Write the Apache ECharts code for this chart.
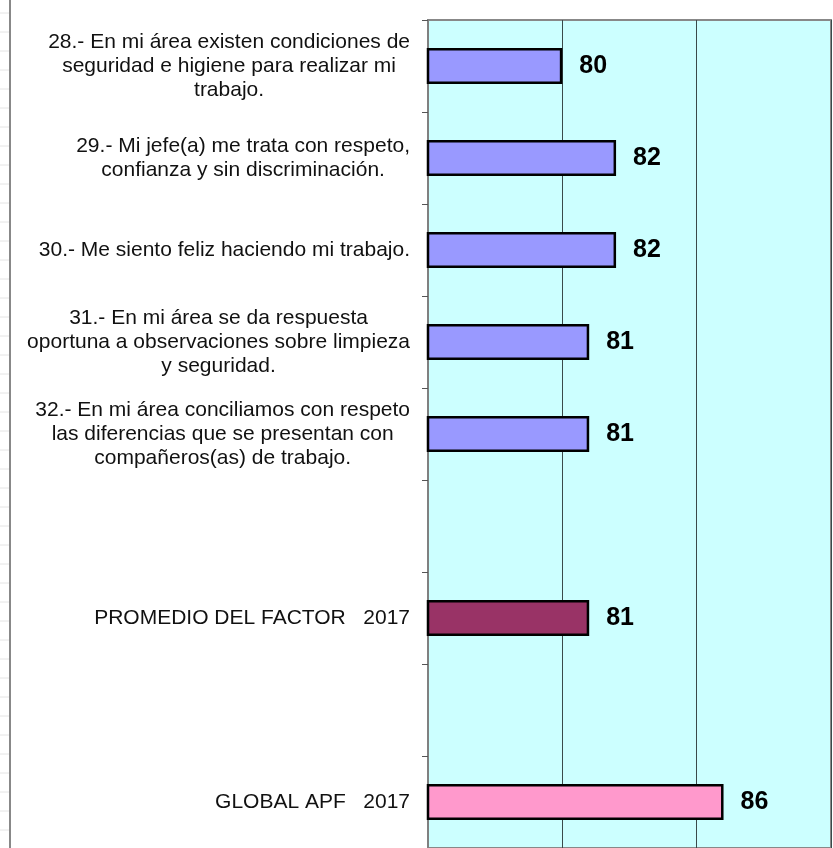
<!DOCTYPE html>
<html>
<head>
<meta charset="utf-8">
<script src="https://cdn.jsdelivr.net/npm/echarts@6/dist/echarts.min.js"></script>
<style>
  html, body { margin: 0; padding: 0; background: #ffffff; }
  #chart { width: 833px; height: 848px; }
</style>
</head>
<body>
<div id="chart"></div>
<script>
// Survey items (top to bottom); empty strings are spacer rows
const categories = [
  '28.- En mi área existen condiciones de\nseguridad e higiene para realizar mi\ntrabajo.',
  '29.- Mi jefe(a) me trata con respeto,\nconfianza y sin discriminación.',
  '30.- Me siento feliz haciendo mi trabajo.',
  '31.- En mi área se da respuesta\noportuna a observaciones sobre limpieza\ny seguridad.',
  '32.- En mi área conciliamos con respeto\nlas diferencias que se presentan con\ncompañeros(as) de trabajo.',
  '',
  'PROMEDIO DEL FACTOR   2017',
  '',
  'GLOBAL APF   2017'
];

// Scores per row (null = spacer)
const scores = [80, 82, 82, 81, 81, null, 81, null, 86];

// Bar fill per row
const barColors = ['#9999FF', '#9999FF', '#9999FF', '#9999FF', '#9999FF', null, '#993366', null, '#FF99CC'];

// Value axis range
const axisMin = 75;
const axisMax = 90;
const axisStep = 5;

const chart = echarts.init(document.getElementById('chart'), null, { renderer: 'canvas' });

const seriesData = scores.map((v, i) => ({
  value: v,
  itemStyle: { color: barColors[i] || '#9999FF' }
}));

// Faint spreadsheet cell lines at the far left edge
const cellLines = [];
for (let y = 13; y < 848; y += 19) {
  cellLines.push({
    type: 'line',
    shape: { x1: 0, y1: y, x2: 9, y2: y },
    style: { stroke: '#e4e4e4', lineWidth: 1 },
    silent: true
  });
}

chart.setOption({
  backgroundColor: '#ffffff',
  animation: false,
  graphic: [
    ...cellLines,
    {
      type: 'line',
      shape: { x1: 10, y1: 0, x2: 10, y2: 848 },
      style: { stroke: '#888888', lineWidth: 2 },
      silent: true
    }
  ],
  grid: {
    left: 428,
    right: 2,
    top: 20,
    bottom: 0,
    show: true,
    backgroundColor: '#CCFFFF',
    borderColor: '#888888',
    borderWidth: 2
  },
  xAxis: {
    type: 'value',
    min: axisMin,
    max: axisMax,
    interval: axisStep,
    axisLine: { show: false },
    axisTick: { show: false },
    axisLabel: { show: false },
    splitLine: { show: true, lineStyle: { color: '#3a4a4a', width: 1 } }
  },
  yAxis: {
    type: 'category',
    inverse: true,
    data: categories,
    axisLine: { show: true, onZero: false, lineStyle: { color: '#808080', width: 2 } },
    axisTick: { show: true, inside: false, length: 6, lineStyle: { color: '#555555', width: 1 } },
    axisLabel: {
      margin: 18,
      align: 'right',
      interval: 0,
      formatter: function (val) {
        if (!val) return '';
        return val.split('\n').map(l => '{c|' + l + '}').join('\n');
      },
      rich: {
        c: {
          align: 'center',
          fontFamily: 'Liberation Sans, Arial, sans-serif',
          fontSize: 21,
          lineHeight: 24,
          color: '#111111'
        }
      }
    }
  },
  series: [{
    type: 'bar',
    data: seriesData,
    barWidth: 36,
    itemStyle: { borderColor: '#000000', borderWidth: 2.5 },
    label: {
      show: true,
      position: 'right',
      distance: 17,
      fontFamily: 'Liberation Sans, Arial, sans-serif',
      fontWeight: 'bold',
      fontSize: 25,
      color: '#000000',
      formatter: p => (p.value == null ? '' : p.value)
    }
  }]
});
</script>
</body>
</html>
